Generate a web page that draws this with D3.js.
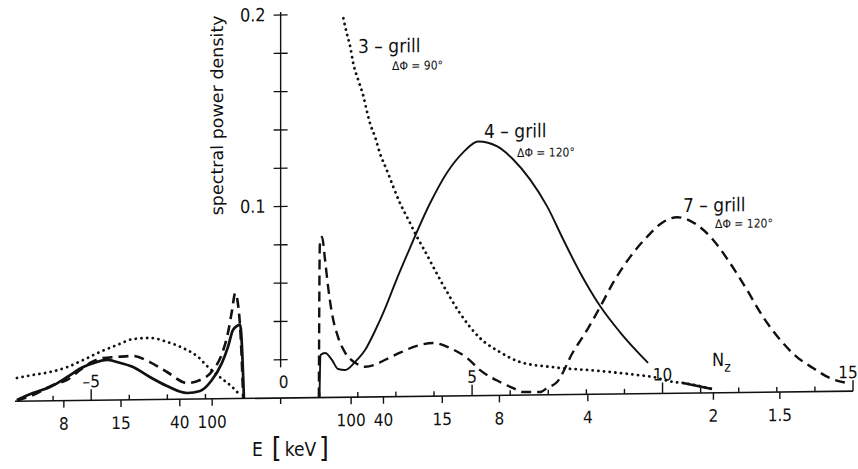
<!doctype html>
<html lang="en">
<head>
<meta charset="utf-8" />
<title>Spectral power density, 3-, 4- and 7-grill</title>
<script src="https://cdn.jsdelivr.net/npm/d3@7"></script>
<style>
	body { margin: 0; background: #fff; }
	text { font-family: "DejaVu Sans Condensed", "Liberation Sans Narrow", "Roboto Condensed", "DejaVu Sans", sans-serif; fill: #111; }
</style>
</head>
<body>
<script>
// spectra: [N_z, spectral power density]
var grill3Left = [[-6.95,0.0121],[-6.53,0.0136],[-6.08,0.0150],[-5.63,0.0175],[-5.21,0.0211],[-4.77,0.0252],[-4.32,0.0287],[-3.90,0.0317],[-3.46,0.0322],[-3.01,0.0300],[-2.59,0.0267],[-2.19,0.0219],[-1.93,0.0166],[-1.62,0.0113],[-1.30,0.0061],[-1.09,0.0018]];
var grill3Right = [[1.62,0.1979],[1.71,0.1900],[1.80,0.1830],[1.88,0.1743],[2.01,0.1656],[2.15,0.1568],[2.23,0.1499],[2.32,0.1429],[2.45,0.1359],[2.58,0.1272],[2.76,0.1184],[2.93,0.1096],[3.11,0.1009],[3.33,0.0922],[3.55,0.0834],[3.72,0.0773],[4.21,0.0590],[4.68,0.0432],[5.21,0.0300],[5.73,0.0226],[6.26,0.0173],[7.13,0.0144],[8.36,0.0121],[9.33,0.0098],[9.75,0.0086],[10.28,0.0059],[10.54,0.0053],[11.30,0.0020]];

var grill4Left = [[-6.95,0.0006],[-6.53,0.0042],[-6.08,0.0072],[-5.63,0.0123],[-5.21,0.0174],[-4.95,0.0194],[-4.58,0.0210],[-4.32,0.0198],[-3.90,0.0171],[-3.46,0.0118],[-3.01,0.0070],[-2.48,0.0032],[-2.14,0.0042],[-1.85,0.0093],[-1.57,0.0186],[-1.41,0.0269],[-1.28,0.0358],[-1.17,0.0379],[-1.09,0.0384],[-0.99,0.0]];
var grill4Right = [[0.995,0.0],[1.02,0.0222],[1.14,0.0232],[1.32,0.0196],[1.48,0.0148],[1.67,0.0142],[1.93,0.0184],[2.19,0.0245],[2.45,0.0344],[2.72,0.0463],[2.98,0.0593],[3.29,0.0739],[3.90,0.1009],[4.34,0.1166],[4.76,0.1270],[5.16,0.1327],[5.66,0.1300],[6.08,0.1231],[6.52,0.1126],[6.97,0.0984],[7.39,0.0811],[7.83,0.0638],[8.36,0.0460],[8.88,0.0323],[9.62,0.0160]];

var grill7Left = [[-6.95,0.0002],[-6.53,0.0031],[-6.00,0.0083],[-5.63,0.0108],[-5.29,0.0159],[-5.03,0.0195],[-4.69,0.0220],[-4.32,0.0225],[-3.90,0.0229],[-3.46,0.0196],[-3.01,0.0143],[-2.48,0.0084],[-2.14,0.0099],[-1.80,0.0150],[-1.57,0.0233],[-1.41,0.0343],[-1.30,0.0463],[-1.22,0.0551],[-1.15,0.0499],[-1.07,0.0305],[-1.01,0.0]];
var grill7Right = [[0.977,0.0],[1.003,0.0796],[1.06,0.0838],[1.14,0.0718],[1.22,0.0577],[1.32,0.0441],[1.48,0.0315],[1.67,0.0232],[1.93,0.0179],[2.19,0.0158],[2.45,0.0168],[2.72,0.0193],[3.11,0.0229],[3.55,0.0264],[3.98,0.0278],[4.42,0.0250],[4.87,0.0197],[5.21,0.0133],[5.73,0.0070],[6.08,0.0037],[6.34,0.0016],[6.79,0.0015],[6.97,0.0036],[7.23,0.0066],[7.65,0.0222],[7.97,0.0320],[8.36,0.0455],[8.70,0.0580],[9.15,0.0715],[9.59,0.0818],[10.01,0.0894],[10.38,0.0919],[10.91,0.0877],[11.33,0.0798],[11.77,0.0677],[12.22,0.0534],[12.64,0.0393],[13.09,0.0272],[13.53,0.0181],[13.95,0.0123],[14.40,0.0069],[14.87,0.0042]];

// axes
var nzMinor = [-6,-5,-4,-3,-2,-1,1,2,3,4,5,6,7,8,9,10,11,12,13,14,15];
var nzLabels = [-5, 0, 5, 10, 15];
var eLeft = [8, 15, 40, 100];
var eRight = [100, 40, 15, 8, 4, 2, 1.5];
var yMinor = [0.02,0.04,0.06,0.08,0.1,0.12,0.14,0.16,0.18,0.2];
var yLabels = [0.1, 0.2];
var grillNames = ["3 \u2013 grill", "4 \u2013 grill", "7 \u2013 grill"];
var phaseNames = ["\u0394\u03A6 = 90\u00B0", "\u0394\u03A6 = 120\u00B0", "\u0394\u03A6 = 120\u00B0"];

var w = 858, h = 469;
var ink = "#111";
var x = d3.scaleLinear().domain([-7, 15]).range([15, 853]);
var y = d3.scaleLinear().domain([0, 0.2]).range([398, 15]);

// N_z of an electron in resonance with energy E (keV)
function nzFromE(e) {
	var gam = 1 + e / 511;
	return 1 / Math.sqrt(1 - 1 / (gam * gam));
}

var svg = d3.select("body").append("svg").attr("width", w).attr("height", h);
// the scanned page is slightly skewed, the baseline drops to the left
var g = svg.append("g")
	.attr("transform", "translate(" + x(0) + ",0) skewY(-0.69) translate(" + (-x(0)) + ",0)");

// horizontal axis
g.append("line").attr("x1", x(-7)).attr("x2", x(15)).attr("y1", y(0)).attr("y2", y(0))
	.attr("stroke", ink).attr("stroke-width", 1.6);
g.selectAll(".nzt").data(nzMinor).enter().append("line")
	.attr("x1", function(d) { return x(d); }).attr("x2", function(d) { return x(d); })
	.attr("y1", y(0))
	.attr("y2", function(d) { return y(0) - (d % 5 == 0 ? 11 : 5); })
	.attr("stroke", ink).attr("stroke-width", 1.4);
g.selectAll(".nzl").data(nzLabels).enter().append("text")
	.attr("x", function(d) { return x(d) + (d == 0 ? 2 : d == 15 ? -5 : 0); })
	.attr("y", function(d) { return y(0) - (d == 0 ? 10 : 13); })
	.attr("text-anchor", "middle").attr("font-size", "17px")
	.text(function(d) { return d < 0 ? "\u2013" + (-d) : d; });

var eTicks = eLeft.map(function(e) { return { e: e, n: -nzFromE(e) }; })
	.concat(eRight.map(function(e) { return { e: e, n: nzFromE(e) }; }));
g.selectAll(".et").data(eTicks).enter().append("line")
	.attr("x1", function(d) { return x(d.n); }).attr("x2", function(d) { return x(d.n); })
	.attr("y1", y(0)).attr("y2", y(0) + 7)
	.attr("stroke", ink).attr("stroke-width", 1.4);
g.selectAll(".el").data(eTicks).enter().append("text")
	.attr("x", function(d) { return x(d.n); })
	.attr("y", y(0) + 29)
	.attr("text-anchor", "middle").attr("font-size", "17px")
	.text(function(d) { return d.e; });

// vertical axis
g.append("line").attr("x1", x(0) - 1).attr("x2", x(0) - 1).attr("y1", y(0.2) - 3).attr("y2", y(0.016))
	.attr("stroke", ink).attr("stroke-width", 1.4);
g.append("line").attr("x1", x(0) - 1).attr("x2", x(0) - 1).attr("y1", y(0)).attr("y2", y(0) + 6)
	.attr("stroke", ink).attr("stroke-width", 1.4);
g.selectAll(".yt").data(yMinor).enter().append("line")
	.attr("x1", x(0) - 8).attr("x2", x(0) + 6)
	.attr("y1", function(d) { return y(d); }).attr("y2", function(d) { return y(d); })
	.attr("stroke", ink).attr("stroke-width", 1.3);
g.selectAll(".yl").data(yLabels).enter().append("text")
	.attr("x", x(0) - 16).attr("y", function(d) { return y(d) + 6; })
	.attr("text-anchor", "end").attr("font-size", "18px")
	.text(function(d) { return d; });
g.append("text")
	.attr("transform", "translate(" + (x(0) - 59) + "," + y(0.148) + ") rotate(-90)")
	.attr("text-anchor", "middle").attr("font-size", "17px")
	.attr("textLength", 200).attr("lengthAdjust", "spacingAndGlyphs")
	.text("spectral power density");

// curves
var line = d3.line()
	.x(function(d) { return x(d[0]); })
	.y(function(d) { return y(d[1]); })
	.curve(d3.curveMonotoneX);

function draw(data, width, dash) {
	var p = g.append("path").datum(data).attr("d", line)
		.attr("fill", "none").attr("stroke", ink).attr("stroke-width", width)
		.attr("stroke-linejoin", "round");
	if (dash) p.attr("stroke-dasharray", dash);
	if (dash == "0.1,5.6") p.attr("stroke-linecap", "round");
	return p;
}
draw(grill3Left, 2.8, "0.1,5.6");
draw(grill3Right, 2.8, "0.1,5.6");
draw(grill3Right.filter(function(d) { return d[0] >= 10.54; }), 2.4);
draw(grill4Left, 2.7);
draw(grill4Right, 1.9);
draw(grill7Left, 2.6, "10,6");
draw(grill7Right, 2.4, "10,6");

// annotations
var nameAt = [[2.006, 0.1797], [5.314, 0.1345], [10.538, 0.0946]];
var phaseAt = [[2.898, 0.1706], [6.180, 0.1244], [11.378, 0.0860]];
g.selectAll(".gn").data(grillNames).enter().append("text")
	.attr("x", function(d, i) { return x(nameAt[i][0]); })
	.attr("y", function(d, i) { return y(nameAt[i][1]); })
	.attr("font-size", "19px")
	.text(function(d) { return d; });
g.selectAll(".ph").data(phaseNames).enter().append("text")
	.attr("x", function(d, i) { return x(phaseAt[i][0]); })
	.attr("y", function(d, i) { return y(phaseAt[i][1]); })
	.attr("font-size", "12px")
	.text(function(d) { return d; });

var nz = g.append("text").attr("x", x(11.3)).attr("y", y(0.014)).attr("font-size", "18px");
nz.append("tspan").text("N");
nz.append("tspan").attr("dy", 6).attr("font-size", "14px").text("z");

var eLab = svg.append("text").attr("x", 252).attr("y", 456).attr("font-size", "19px");
eLab.append("tspan").text("E");
eLab.append("tspan").attr("dx", 9).attr("font-size", "28px").attr("font-weight", "200").attr("dy", 2).text("[");
eLab.append("tspan").attr("dx", 3).attr("dy", -2).text("keV");
eLab.append("tspan").attr("dx", 3).attr("font-size", "28px").attr("font-weight", "200").attr("dy", 2).text("]");
</script>
</body>
</html>
